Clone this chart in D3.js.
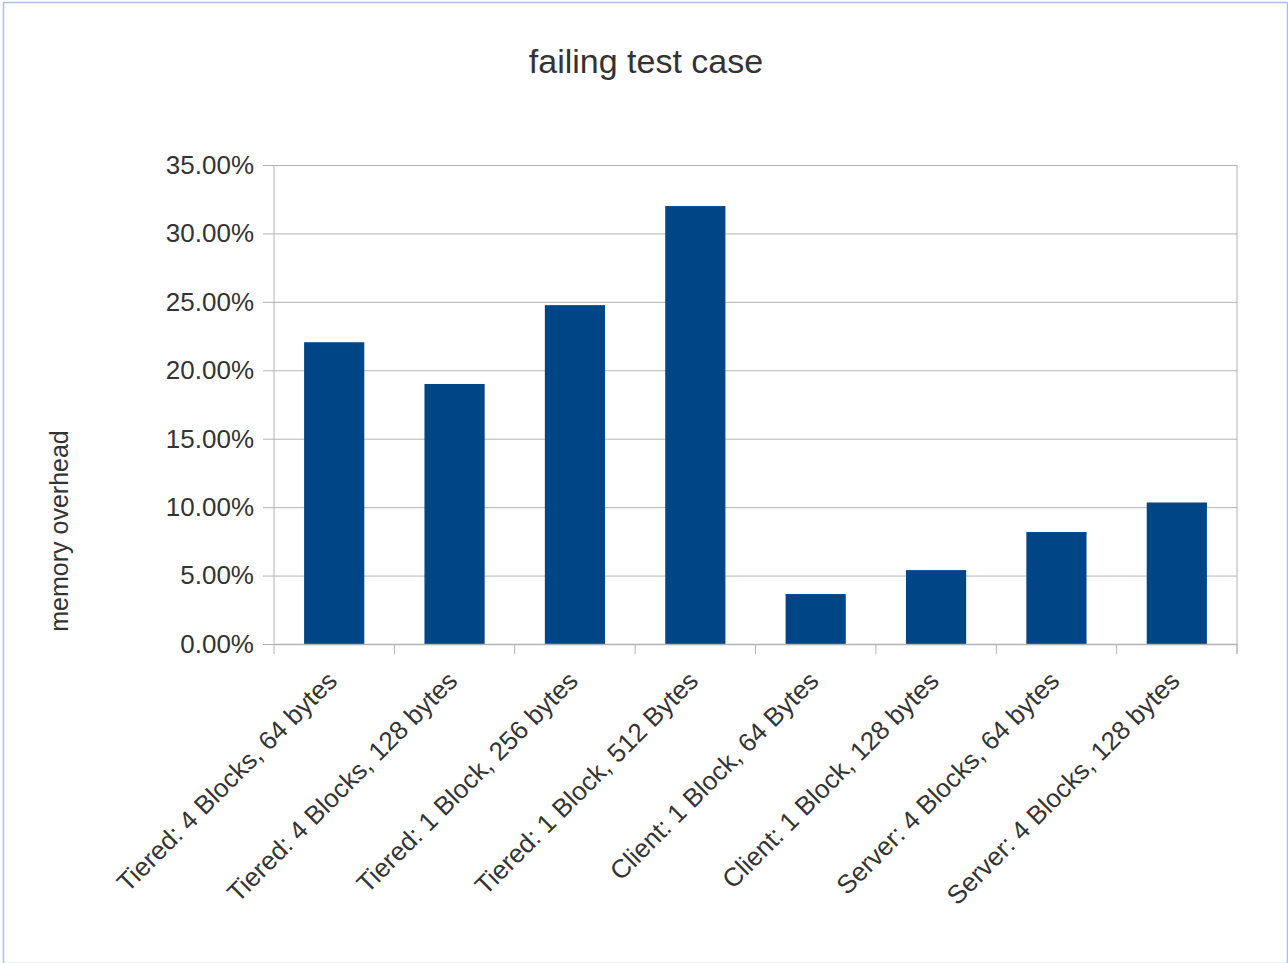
<!DOCTYPE html>
<html>
<head>
<meta charset="utf-8">
<script src="https://cdn.jsdelivr.net/npm/d3@7/dist/d3.min.js"></script>
<style>
  html, body { margin: 0; padding: 0; background: #fff; }
  svg { display: block; }
</style>
</head>
<body>
<script>
const categories = [
  "Tiered: 4 Blocks, 64 bytes",
  "Tiered: 4 Blocks, 128 bytes",
  "Tiered: 1 Block, 256 bytes",
  "Tiered: 1 Block, 512 Bytes",
  "Client: 1 Block, 64 Bytes",
  "Client: 1 Block, 128 bytes",
  "Server: 4 Blocks, 64 bytes",
  "Server: 4 Blocks, 128 bytes"
];
const values = [0.2205, 0.1900, 0.2476, 0.3200, 0.0365, 0.0540, 0.0818, 0.1034];
const yTicks = [0, 0.05, 0.10, 0.15, 0.20, 0.25, 0.30, 0.35];
const titleText = "failing test case";
const yAxisTitle = "memory overhead";

const W = 1288, H = 963;
const font = "'Liberation Sans', Arial, sans-serif";
const textColor = "#333333";
const gridColor = "#b3b3b3";
const barColor = "#004586";

const plot = { left: 274, right: 1237, top: 165, bottom: 644 };

const svg = d3.select("body").append("svg")
  .attr("width", W).attr("height", H);

// frame
svg.append("rect")
  .attr("x", 3.5).attr("y", 2.5)
  .attr("width", W - 4).attr("height", H - 2)
  .attr("fill", "#fff")
  .attr("stroke", "#a9c0e4").attr("stroke-width", 1.5);

const x = d3.scaleBand().domain(categories)
  .range([plot.left, plot.right]).paddingInner(0.5).paddingOuter(0.25);
const xOuter = d3.scaleBand().domain(categories)
  .range([plot.left, plot.right]).padding(0);
const y = d3.scaleLinear().domain([0, 0.35]).range([plot.bottom, plot.top]);

// gridlines + y axis
const yAxis = d3.axisLeft(y).tickValues(yTicks)
  .tickFormat(d3.format(".2%"))
  .tickSize(-(plot.right - plot.left)).tickPadding(10);
const gy = svg.append("g")
  .attr("transform", `translate(${plot.left},0)`)
  .call(yAxis);
gy.select(".domain").remove();
gy.selectAll(".tick line")
  .attr("x1", -11)
  .attr("stroke", gridColor).attr("stroke-width", 1);
gy.selectAll(".tick text")
  .attr("x", -20)
  .attr("fill", textColor)
  .style("font-family", font).style("font-size", "26px");

// right border line of plot
svg.append("line")
  .attr("x1", plot.right).attr("x2", plot.right)
  .attr("y1", plot.top).attr("y2", plot.bottom + 10)
  .attr("stroke", gridColor).attr("stroke-width", 1);

// bars
svg.append("g").selectAll("rect")
  .data(values)
  .join("rect")
  .attr("x", (d, i) => x(categories[i]))
  .attr("width", x.bandwidth())
  .attr("y", d => y(d))
  .attr("height", d => y(0) - y(d))
  .attr("fill", barColor);

// x axis
const xAxis = d3.axisBottom(xOuter).tickSize(0).tickFormat("");
const gx = svg.append("g")
  .attr("transform", `translate(0,${plot.bottom})`)
  .call(xAxis);
gx.select(".domain").attr("stroke", gridColor).attr("stroke-width", 1.5);
// category boundary ticks
const boundaries = categories.map(c => xOuter(c)).concat([plot.right]);
svg.append("g").selectAll("line")
  .data(boundaries)
  .join("line")
  .attr("x1", d => d).attr("x2", d => d)
  .attr("y2", plot.bottom + 10)
  .attr("stroke", gridColor).attr("stroke-width", 1)
  .attr("y1", (d, i) => i === 0 ? plot.top : plot.bottom);

// x labels
svg.append("g").selectAll("text")
  .data(categories)
  .join("text")
  .attr("transform", d => `translate(${xOuter(d) + xOuter.bandwidth() / 2 - 2},${plot.bottom + 32}) rotate(-45)`)
  .attr("text-anchor", "end")
  .attr("dy", "0.35em")
  .attr("fill", textColor)
  .style("font-family", font).style("font-size", "26px")
  .text(d => d);

// title
svg.append("text")
  .attr("x", 646).attr("y", 73)
  .attr("text-anchor", "middle")
  .attr("fill", textColor)
  .style("font-family", font).style("font-size", "34px")
  .text(titleText);

// y axis title
svg.append("text")
  .attr("transform", `translate(68,531) rotate(-90)`)
  .attr("text-anchor", "middle")
  .attr("fill", textColor)
  .style("font-family", font).style("font-size", "25px")
  .text(yAxisTitle);
</script>
</body>
</html>
